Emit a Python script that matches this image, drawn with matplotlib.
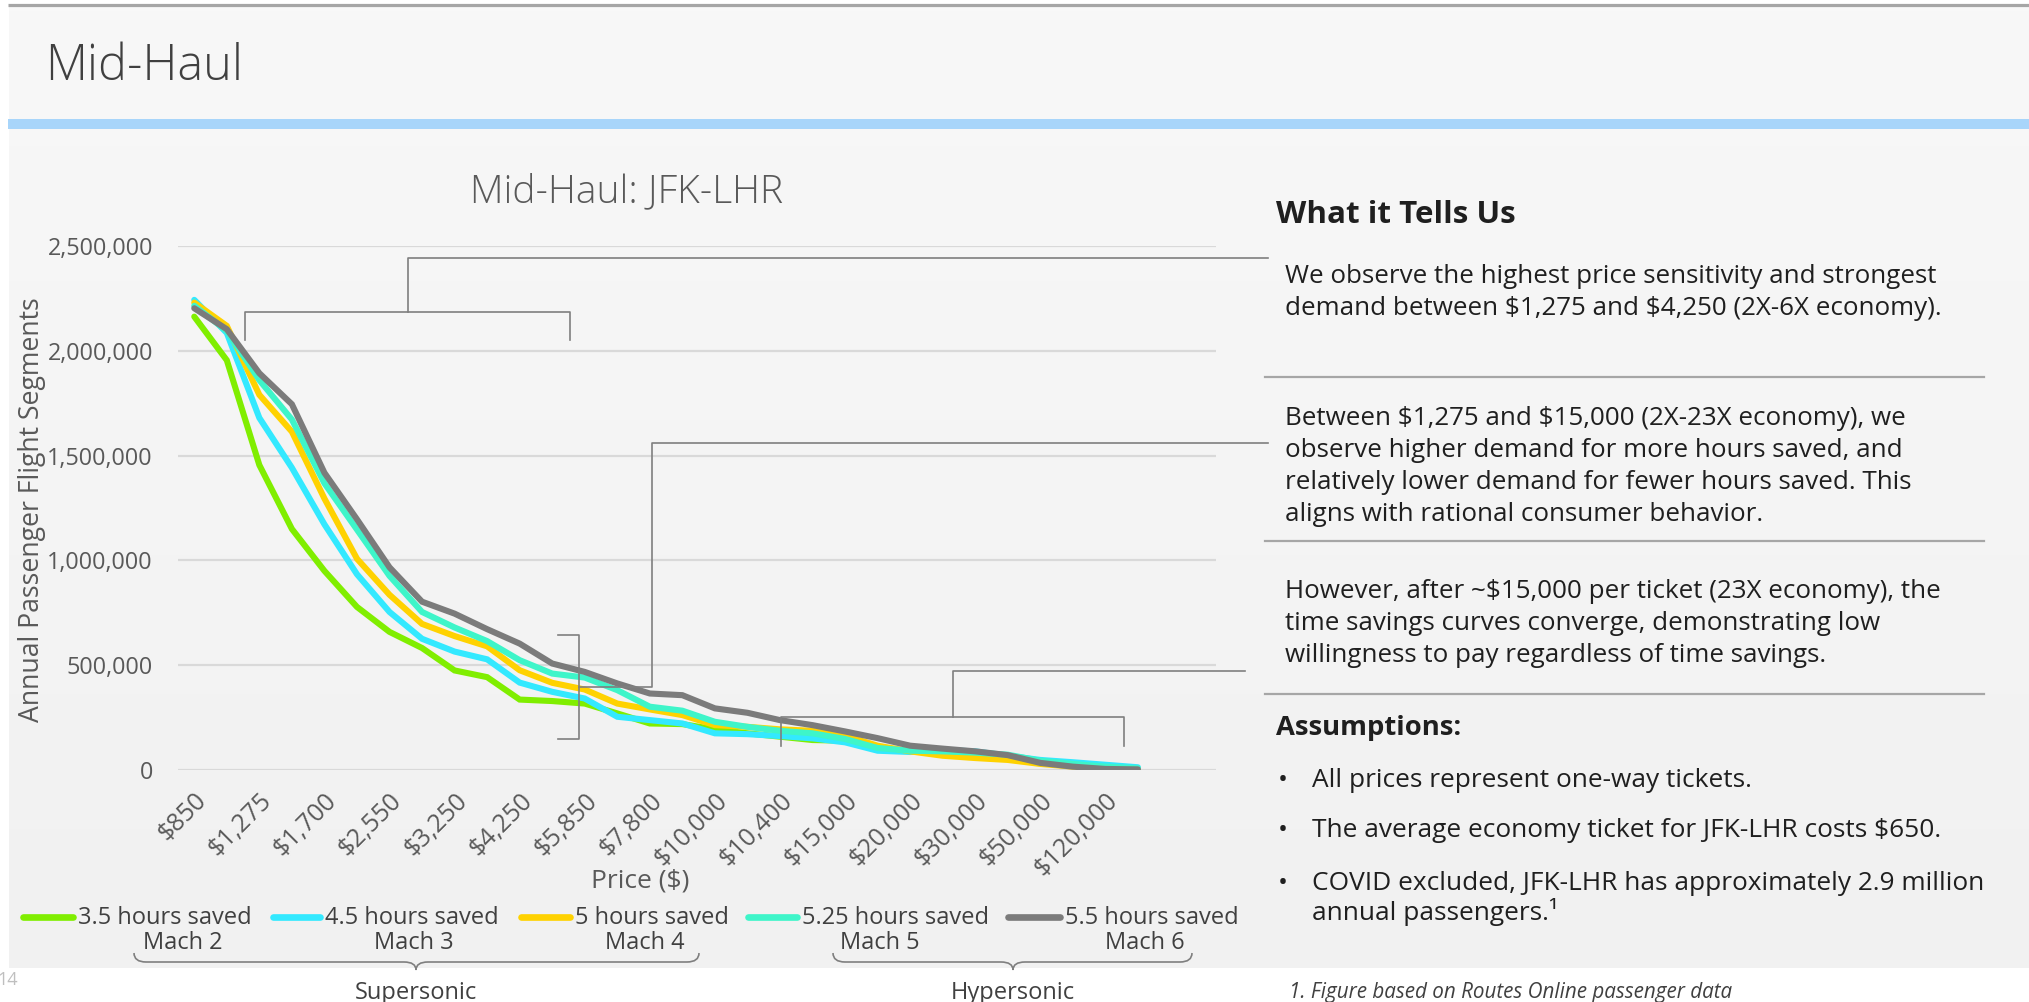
import matplotlib
matplotlib.use("Agg")
import matplotlib.pyplot as plt
import numpy as np
from matplotlib.colors import LinearSegmentedColormap
from matplotlib.lines import Line2D
from matplotlib.patches import Rectangle, PathPatch
from matplotlib.path import Path

plt.rcParams['font.family'] = ['Open Sans', 'DejaVu Sans']

# price points (30 in the series, every other one labelled)
price_labels = ["$850", "$1,275", "$1,700", "$2,550", "$3,250", "$4,250", "$5,850",
                "$7,800", "$10,000", "$10,400", "$15,000", "$20,000", "$30,000",
                "$50,000", "$120,000"]

# annual passenger flight segments, thousands
saved_3_5 = [2163, 1955, 1455, 1150, 950, 778, 659, 582, 475, 443, 336, 329, 317, 270, 222,
             219, 194, 175, 159, 143, 140, 105, 89, 84, 73, 57, 37, 21, 6, 1]
saved_4_5 = [2243, 2085, 1680, 1442, 1172, 934, 754, 626, 565, 528, 417, 373, 341, 254, 238,
             222, 175, 171, 162, 151, 132, 92, 86, 95, 89, 68, 48, 37, 25, 13]
saved_5 = [2230, 2119, 1790, 1614, 1295, 1008, 836, 697, 639, 590, 476, 416, 384, 317, 289,
           262, 214, 206, 194, 187, 163, 116, 89, 68, 57, 48, 29, 16, 10, 3]
saved_5_25 = [2215, 2095, 1860, 1672, 1368, 1147, 926, 754, 680, 615, 524, 460, 441, 381, 302,
              283, 230, 206, 187, 175, 148, 105, 92, 89, 83, 73, 44, 29, 16, 8]
saved_5_5 = [2203, 2103, 1893, 1745, 1418, 1196, 967, 803, 746, 672, 603, 508, 468, 413, 365,
             357, 294, 273, 238, 214, 184, 152, 116, 102, 89, 71, 34, 16, 5, 3]

series_names = ["3.5 hours saved", "4.5 hours saved", "5 hours saved",
                "5.25 hours saved", "5.5 hours saved"]
series_colors = ["#80ee00", "#33e9ff", "#ffd200", "#3ef5c9", "#7b7b7b"]
mach_labels = ["Mach 2", "Mach 3", "Mach 4", "Mach 5", "Mach 6"]

para1 = ["We observe the highest price sensitivity and strongest",
         "demand between $1,275 and $4,250 (2X-6X economy)."]
para2 = ["Between $1,275 and $15,000 (2X-23X economy), we",
         "observe higher demand for more hours saved, and",
         "relatively lower demand for fewer hours saved. This",
         "aligns with rational consumer behavior."]
para3 = ["However, after ~$15,000 per ticket (23X economy), the",
         "time savings curves converge, demonstrating low",
         "willingness to pay regardless of time savings."]
bullets = ["All prices represent one-way tickets.",
           "The average economy ticket for JFK-LHR costs $650.",
           "COVID excluded, JFK-LHR has approximately 2.9 million"]

W, H = 2029, 1002
fig = plt.figure(figsize=(W / 100, H / 100), dpi=100)
fig.patch.set_facecolor('white')

# slide background
bg = fig.add_axes([0, 0, 1, 1], zorder=0)
bg.set_xlim(0, W)
bg.set_ylim(H, 0)
bg.axis('off')
cmap = LinearSegmentedColormap.from_list('bgg', ['#f8f8f8', '#f1f1f1'])
bg.imshow(np.linspace(0, 1, 256).reshape(-1, 1), extent=[9, W, 968, 7],
          cmap=cmap, aspect='auto')
bg.plot([8, W], [5, 5], color='#a6a6a6', lw=2.3, solid_capstyle='butt')
bg.add_patch(Rectangle((8, 119), W - 8, 10, color='#a8d5fa', lw=0))

# chart
ax = fig.add_axes([178 / W, 1 - 770 / H, (1216 - 178) / W, (770 - 246) / H], zorder=2)
ax.set_facecolor('none')
x = np.arange(len(saved_5_5))
all_series = [saved_3_5, saved_4_5, saved_5, saved_5_25, saved_5_5]
for vals, name, col in zip(all_series, series_names, series_colors):
    ax.plot(x, np.array(vals) * 1000, color=col, lw=4.4, label=name,
            solid_joinstyle='miter', solid_capstyle='round')

ax.set_xlim(-0.5, 31.4)
ax.set_ylim(0, 2500000)
ax.set_yticks(np.arange(0, 2500001, 500000))
ax.set_yticklabels([f"{v:,}" for v in range(0, 2500001, 500000)])
ax.set_xticks(x[::2])
ax.set_xticklabels(price_labels, rotation=45, ha='right', va='top',
                   rotation_mode='anchor', fontsize=18)
ax.yaxis.grid(True, color='#d9d9d9', lw=1.6)
ax.set_axisbelow(True)
for s in ax.spines.values():
    s.set_visible(False)
ax.tick_params(axis='both', length=0, labelcolor='#595959')
ax.tick_params(axis='y', pad=18, labelsize=16.8)
ax.tick_params(axis='x', pad=13)

# overlay in pixel coordinates
ov = fig.add_axes([0, 0, 1, 1], zorder=3)
ov.set_xlim(0, W)
ov.set_ylim(H, 0)
ov.axis('off')

# legend, laid out by hand to match the slide spacing
leg_handles = [(20, 76), (270, 323), (518, 573), (745, 800), (1005, 1063)]
for (h0, h1), name, col in zip(leg_handles, series_names, series_colors):
    ov.plot([h0 + 3, h1 - 3], [917, 917], color=col, lw=4.8, solid_capstyle='round')
    ov.text(h1 + 2, 924, name, fontsize=17, color='#404040', va='baseline')

lc = '#7f7f7f'


def seg(xs, ys, color=lc, lw=1.2):
    ov.add_line(Line2D(xs, ys, color=color, lw=lw))


# bracket 1 (top)
seg([245, 245, 570, 570], [340, 312, 312, 340])
seg([408, 408, 1268], [312, 258, 258])
# bracket 2 (vertical)
seg([558, 579, 579, 558], [635, 635, 739, 739])
seg([579, 652, 652, 1268], [687, 687, 443, 443])
# bracket 3 (bottom right)
seg([781, 781, 1124, 1124], [746, 717, 717, 746])
seg([953, 953, 1245], [717, 671, 671])


def brace(x0, x1, xm, y0):
    verts = [(x0, y0), (x0, y0 + 9), (x0 + 12, y0 + 9), (xm - 12, y0 + 9), (xm, y0 + 9),
             (xm, y0 + 17), (xm, y0 + 9), (xm + 12, y0 + 9), (x1 - 12, y0 + 9),
             (x1, y0 + 9), (x1, y0)]
    codes = [Path.MOVETO, Path.CURVE3, Path.CURVE3, Path.LINETO, Path.CURVE3, Path.CURVE3,
             Path.CURVE3, Path.CURVE3, Path.LINETO, Path.CURVE3, Path.CURVE3]
    ov.add_patch(PathPatch(Path(verts, codes), fill=False, edgecolor=lc, lw=1.2))


brace(134, 699, 416, 953)
brace(833, 1192, 1013, 953)

txt = '#404040'
ov.text(45, 80, "Mid-Haul", fontsize=35, color=txt, fontweight='light', va='baseline')
ov.text(627, 202, "Mid-Haul: JFK-LHR", fontsize=28, color='#595959', fontweight='light',
        ha='center', va='baseline')
ov.text(32, 510, "Annual Passenger Flight Segments", rotation=90, ha='center',
        va='center', fontsize=19.2, color='#595959')
ov.text(640, 887, "Price ($)", ha='center', va='baseline', fontsize=19, color='#595959')
for lab, cx in zip(mach_labels, [183, 414, 645, 880, 1145]):
    ov.text(cx, 949, lab, ha='center', va='baseline', fontsize=17, color=txt)
ov.text(416, 999, "Supersonic", ha='center', va='baseline', fontsize=17, color=txt)
ov.text(1013, 999, "Hypersonic", ha='center', va='baseline', fontsize=17, color=txt)
ov.text(-3, 985, "14", ha='left', va='baseline', fontsize=13, color='#bfbfbf')

# right panel
dark = '#1f1f1f'
ov.text(1276, 223, "What it Tells Us", fontsize=22.6, fontweight='bold', color=dark,
        va='baseline')
for lines, y0 in [(para1, 283), (para2, 425), (para3, 598)]:
    for k, line in enumerate(lines):
        ov.text(1285, y0 + 32 * k, line, fontsize=18.75, color=dark, va='baseline',
                parse_math=False)
for yy in [377, 541, 694]:
    seg([1265, 1984], [yy, yy], color='#a6a6a6', lw=1.6)

ov.text(1276, 735, "Assumptions:", fontsize=19.7, fontweight='bold', color=dark,
        va='baseline')
for line, yy in zip(bullets, [787, 837, 890]):
    ov.text(1278, yy, "\u2022", fontsize=18.9, color=dark, va='baseline')
    ov.text(1312, yy, line, fontsize=18.9, color=dark, va='baseline', parse_math=False)
ov.text(1312, 920, "annual passengers.\u00b9", fontsize=18.9, color=dark, va='baseline')
ov.text(1289, 998, "1. Figure based on Routes Online passenger data", fontsize=14.9,
        style='italic', color=txt, va='baseline')

fig.savefig("out.png", dpi=100, facecolor='white')
